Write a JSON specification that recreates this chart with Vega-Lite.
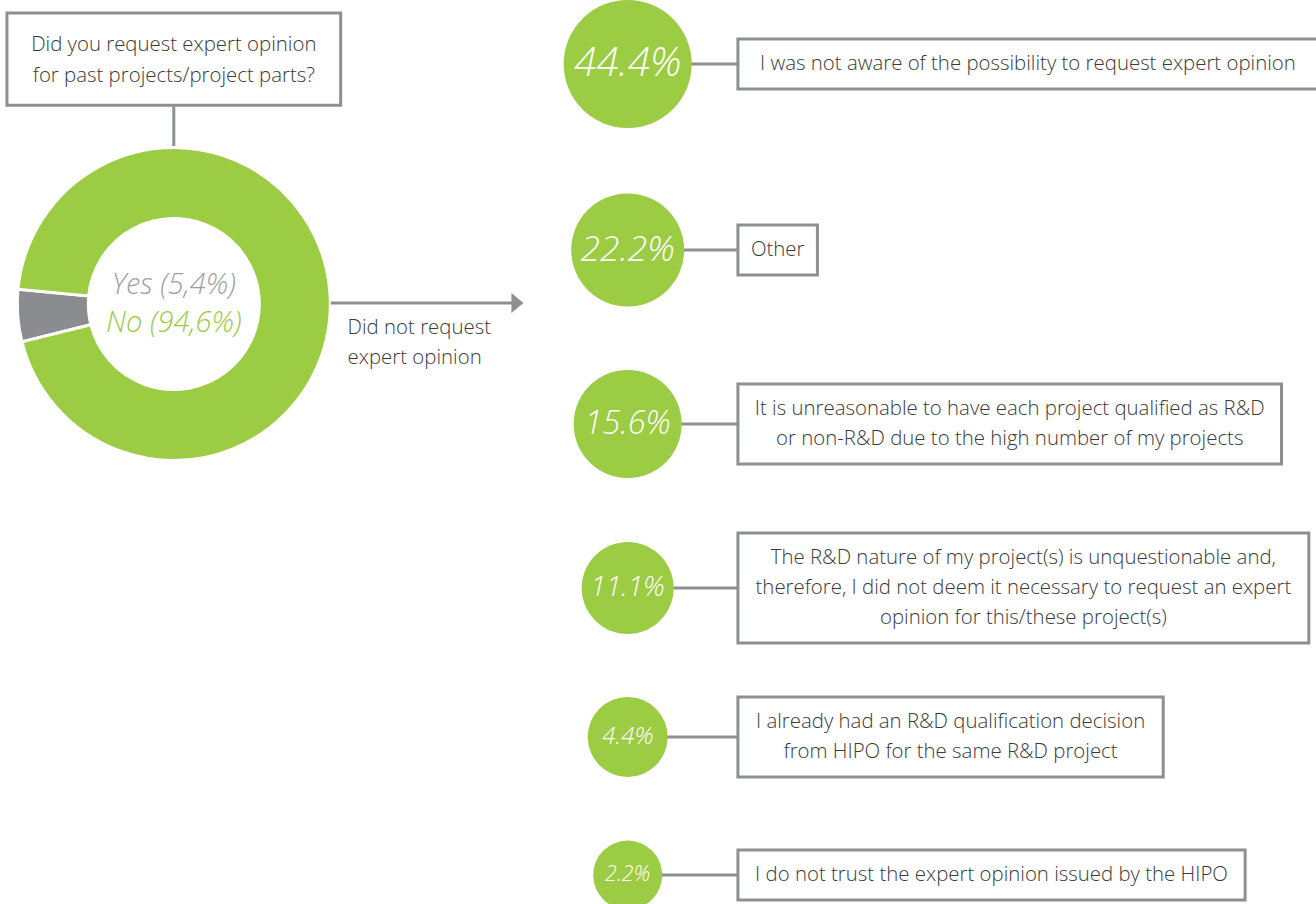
{
  "$schema": "https://vega.github.io/schema/vega-lite/v6.json",
  "width": 1316,
  "height": 904,
  "autosize": {"type": "fit", "contains": "padding"},
  "padding": 0,
  "background": "white",
  "config": {
    "view": {"stroke": null},
    "font": "Open Sans",
    "axis": {"disable": true},
    "legend": {"disable": true}
  },
  "datasets": {
    "question": [
      {"question": ["Did you request expert opinion", "for past projects/project parts?"], "branch": ["Did not request", "expert opinion"]}
    ],
    "answers": [
      {"answer": "Yes", "share": 0.054, "caption": "Yes (5,4%)"},
      {"answer": "No", "share": 0.946, "caption": "No (94,6%)"}
    ],
    "reasons": [
      {"rank": 1, "share": 0.444, "lines": ["I was not aware of the possibility to request expert opinion"]},
      {"rank": 2, "share": 0.222, "lines": ["Other"]},
      {"rank": 3, "share": 0.156, "lines": ["It is unreasonable to have each project qualified as R&D", "or non-R&D due to the high number of my projects"]},
      {"rank": 4, "share": 0.111, "lines": ["The R&D nature of my project(s) is unquestionable and,", "therefore, I did not deem it necessary to request an expert", "opinion for this/these project(s)"]},
      {"rank": 5, "share": 0.044, "lines": ["I already had an R&D qualification decision", "from HIPO for the same R&D project"]},
      {"rank": 6, "share": 0.022, "lines": ["I do not trust the expert opinion issued by the HIPO"]}
    ]
  },
  "resolve": {"scale": {"y": "independent"}},
  "layer": [
    {
      "layer": [
        {
          "data": {"name": "question"},
          "mark": {"type": "rect", "fill": "white", "stroke": "#8e8f92", "strokeWidth": 3},
          "encoding": {
            "x": {"datum": 7, "type": "quantitative", "scale": {"domain": [0, 1316], "nice": false, "zero": false}},
            "x2": {"datum": 343},
            "y": {"datum": 10, "type": "quantitative", "scale": {"domain": [0, 904], "reverse": true, "nice": false, "zero": false}},
            "y2": {"datum": 103}
          }
        },
        {
          "data": {"name": "question"},
          "mark": {"type": "text", "align": "center", "baseline": "middle", "fontSize": 20.4, "fontWeight": 300, "lineHeight": 31, "color": "#3a3a3a"},
          "encoding": {
            "x": {"datum": 175, "type": "quantitative", "scale": {"domain": [0, 1316], "nice": false, "zero": false}},
            "y": {"datum": 42, "type": "quantitative", "scale": {"domain": [0, 904], "reverse": true, "nice": false, "zero": false}},
            "text": {"field": "question"}
          }
        },
        {
          "data": {"name": "question"},
          "mark": {"type": "rule", "color": "#8e8f92", "strokeWidth": 3},
          "encoding": {
            "x": {"datum": 175, "type": "quantitative", "scale": {"domain": [0, 1316], "nice": false, "zero": false}},
            "y": {"datum": 104, "type": "quantitative", "scale": {"domain": [0, 904], "reverse": true, "nice": false, "zero": false}},
            "y2": {"datum": 152}
          }
        },
        {
          "data": {"name": "answers"},
          "mark": {"type": "arc", "outerRadius": 156.5, "innerRadius": 85.5, "stroke": "white", "strokeWidth": 3},
          "encoding": {
            "x": {"datum": 175, "type": "quantitative", "scale": {"domain": [0, 1316], "nice": false, "zero": false}},
            "y": {"datum": 303, "type": "quantitative", "scale": {"domain": [0, 904], "reverse": true, "nice": false, "zero": false}},
            "theta": {"field": "share", "type": "quantitative", "stack": true, "scale": {"range": [4.468, 10.751]}},
            "order": {"field": "answer", "sort": "descending"},
            "color": {"field": "answer", "type": "nominal", "scale": {"domain": ["Yes", "No"], "range": ["#8b8c90", "#9ccb44"]}}
          }
        },
        {
          "data": {"name": "answers"},
          "transform": [{"filter": "datum.answer === 'Yes'"}],
          "mark": {"type": "text", "align": "center", "baseline": "middle", "fontSize": 29, "fontWeight": 300, "fontStyle": "italic", "color": "#9fa0a3"},
          "encoding": {
            "x": {"datum": 175, "type": "quantitative", "scale": {"domain": [0, 1316], "nice": false, "zero": false}},
            "y": {"datum": 284, "type": "quantitative", "scale": {"domain": [0, 904], "reverse": true, "nice": false, "zero": false}},
            "text": {"field": "caption"}
          }
        },
        {
          "data": {"name": "answers"},
          "transform": [{"filter": "datum.answer === 'No'"}],
          "mark": {"type": "text", "align": "center", "baseline": "middle", "fontSize": 29, "fontWeight": 300, "fontStyle": "italic", "color": "#9ccb44"},
          "encoding": {
            "x": {"datum": 175, "type": "quantitative", "scale": {"domain": [0, 1316], "nice": false, "zero": false}},
            "y": {"datum": 322, "type": "quantitative", "scale": {"domain": [0, 904], "reverse": true, "nice": false, "zero": false}},
            "text": {"field": "caption"}
          }
        },
        {
          "data": {"name": "question"},
          "mark": {"type": "rule", "color": "#8e8f92", "strokeWidth": 3},
          "encoding": {
            "x": {"datum": 333, "type": "quantitative", "scale": {"domain": [0, 1316], "nice": false, "zero": false}},
            "x2": {"datum": 518},
            "y": {"datum": 302, "type": "quantitative", "scale": {"domain": [0, 904], "reverse": true, "nice": false, "zero": false}}
          }
        },
        {
          "data": {"name": "question"},
          "mark": {"type": "point", "shape": "M-0.6,-1L0.6,0L-0.6,1Z", "size": 400, "filled": true, "opacity": 1, "color": "#8e8f92"},
          "encoding": {
            "x": {"datum": 521, "type": "quantitative", "scale": {"domain": [0, 1316], "nice": false, "zero": false}},
            "y": {"datum": 302, "type": "quantitative", "scale": {"domain": [0, 904], "reverse": true, "nice": false, "zero": false}}
          }
        },
        {
          "data": {"name": "question"},
          "mark": {"type": "text", "align": "left", "baseline": "middle", "fontSize": 20.4, "fontWeight": 300, "lineHeight": 30, "color": "#3a3a3a"},
          "encoding": {
            "x": {"datum": 350, "type": "quantitative", "scale": {"domain": [0, 1316], "nice": false, "zero": false}},
            "y": {"datum": 327, "type": "quantitative", "scale": {"domain": [0, 904], "reverse": true, "nice": false, "zero": false}},
            "text": {"field": "branch"}
          }
        }
      ]
    },
    {
      "data": {"name": "reasons"},
      "resolve": {"scale": {"size": "independent"}},
      "layer": [
        {
          "mark": {"type": "rule", "color": "#8e8f92", "strokeWidth": 3},
          "encoding": {
            "x": {"datum": 632, "type": "quantitative", "scale": {"domain": [0, 1316], "nice": false, "zero": false}},
            "x2": {"datum": 743},
            "y": {"field": "rank", "type": "quantitative", "scale": {"domain": [1, 2, 3, 4, 5, 6], "range": [61, 247, 421, 585, 734, 872]}}
          }
        },
        {
          "mark": {"type": "point", "shape": "circle", "filled": true, "opacity": 1, "color": "#9ccb44", "strokeWidth": 0},
          "encoding": {
            "x": {"datum": 632, "type": "quantitative", "scale": {"domain": [0, 1316], "nice": false, "zero": false}},
            "y": {"field": "rank", "type": "quantitative", "scale": {"domain": [1, 2, 3, 4, 5, 6], "range": [61, 247, 421, 585, 734, 872]}},
            "size": {"field": "share", "type": "quantitative", "scale": {"domain": [0.022, 0.044, 0.111, 0.156, 0.222, 0.444], "range": [4761, 6400, 8464, 11664, 12769, 16384]}}
          }
        },
        {
          "mark": {"type": "text", "align": "center", "baseline": "middle", "fontStyle": "italic", "fontWeight": 300, "color": "white"},
          "encoding": {
            "x": {"datum": 632, "type": "quantitative", "scale": {"domain": [0, 1316], "nice": false, "zero": false}},
            "y": {"field": "rank", "type": "quantitative", "scale": {"domain": [1, 2, 3, 4, 5, 6], "range": [61, 247, 421, 585, 734, 872]}},
            "size": {"field": "share", "type": "quantitative", "scale": {"domain": [0.022, 0.044, 0.111, 0.156, 0.222, 0.444], "range": [21.5, 24.5, 28, 32.5, 35.5, 40.5]}},
            "text": {"field": "share", "type": "quantitative", "format": ".1%"}
          }
        },
        {
          "mark": {
            "type": "rect", "fill": "white", "stroke": "#8e8f92", "strokeWidth": 3, "align": "left",
            "width": {"expr": "34 + 9.1 * max(length(datum.lines[0]), length(datum.lines[1] || ''), length(datum.lines[2] || ''))"},
            "height": {"expr": "20 + 30 * length(datum.lines)"}
          },
          "encoding": {
            "x": {"datum": 743, "type": "quantitative", "scale": {"domain": [0, 1316], "nice": false, "zero": false}},
            "y": {"field": "rank", "type": "quantitative", "scale": {"domain": [1, 2, 3, 4, 5, 6], "range": [61, 247, 421, 585, 734, 872]}}
          }
        },
        {
          "mark": {
            "type": "text", "align": "center", "baseline": "middle", "fontSize": 20.4, "fontWeight": 300, "lineHeight": 30, "color": "#3a3a3a",
            "dx": {"expr": "(34 + 9.1 * max(length(datum.lines[0]), length(datum.lines[1] || ''), length(datum.lines[2] || ''))) / 2"},
            "dy": {"expr": "-15 * (length(datum.lines) - 1)"}
          },
          "encoding": {
            "x": {"datum": 743, "type": "quantitative", "scale": {"domain": [0, 1316], "nice": false, "zero": false}},
            "y": {"field": "rank", "type": "quantitative", "scale": {"domain": [1, 2, 3, 4, 5, 6], "range": [61, 247, 421, 585, 734, 872]}},
            "text": {"field": "lines"}
          }
        }
      ]
    }
  ]
}
